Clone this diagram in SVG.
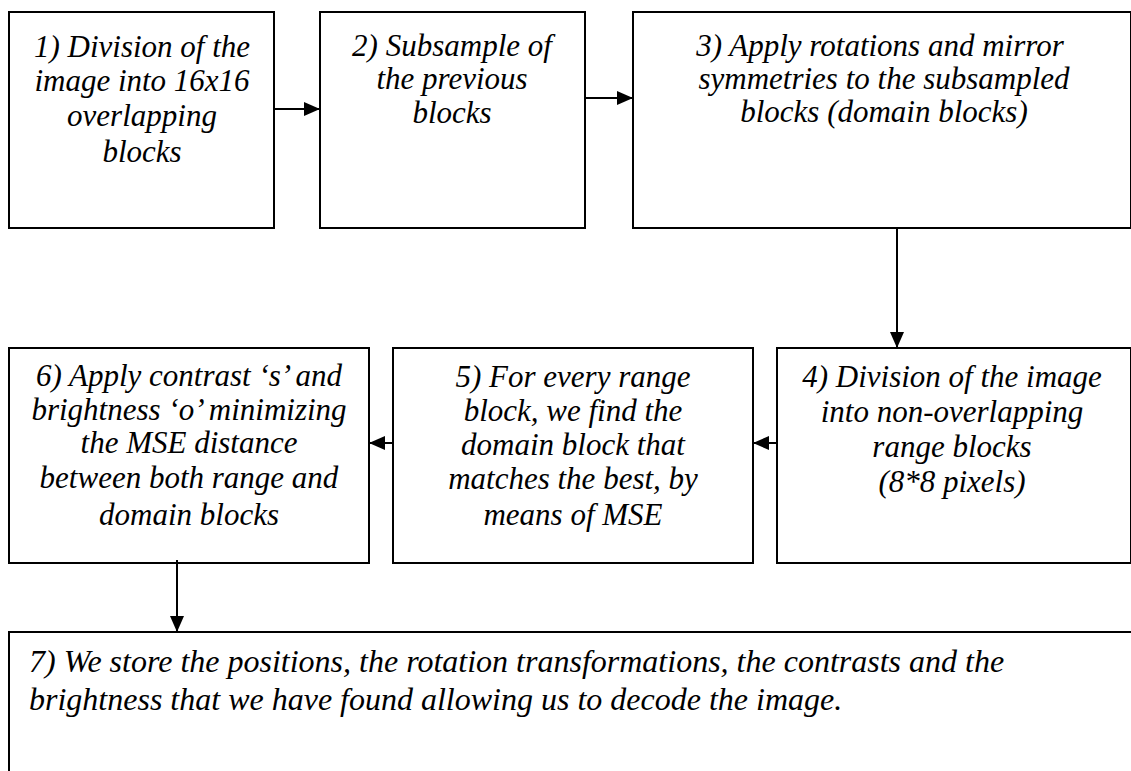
<svg xmlns="http://www.w3.org/2000/svg" width="1131" height="771" viewBox="0 0 1131 771">
  <style>
    .box { fill: #ffffff; stroke: #000000; stroke-width: 2; }
    .lbl { font-family: "Liberation Serif", "Times New Roman", serif; font-style: italic; font-size: 31px; fill: #000000; }
    .big { font-size: 32px; }
    .mid { text-anchor: middle; }
    .edge { stroke: #000000; stroke-width: 2; fill: none; marker-end: url(#head); }
  </style>
  <defs>
    <marker id="head" markerUnits="userSpaceOnUse" markerWidth="16" markerHeight="14" refX="16" refY="7" orient="auto">
      <path d="M0,0 L16,7 L0,14 Z" fill="#000000"/>
    </marker>
  </defs>
  <rect width="1131" height="771" fill="#ffffff"/>

  <g id="step1">
    <rect class="box" x="9" y="12" width="265" height="216"/>
    <text class="lbl mid" x="142" y="57">1) Division of the</text>
    <text class="lbl mid" x="142" y="91">image into 16x16</text>
    <text class="lbl mid" x="142" y="126">overlapping</text>
    <text class="lbl mid" x="142" y="162">blocks</text>
  </g>

  <g id="step2">
    <rect class="box" x="320" y="12" width="265" height="216"/>
    <text class="lbl mid" x="452" y="56">2) Subsample of</text>
    <text class="lbl mid" x="452" y="89">the previous</text>
    <text class="lbl mid" x="452" y="123">blocks</text>
  </g>

  <g id="step3">
    <rect class="box" x="633" y="12" width="498" height="216"/>
    <text class="lbl mid" x="880" y="56">3) Apply rotations and mirror</text>
    <text class="lbl mid" x="884" y="89">symmetries to the subsampled</text>
    <text class="lbl mid" x="884" y="122">blocks (domain blocks)</text>
  </g>

  <g id="step4">
    <rect class="box" x="777" y="348" width="354" height="215"/>
    <text class="lbl mid" x="952" y="387">4) Division of the image</text>
    <text class="lbl mid" x="952" y="422">into non-overlapping</text>
    <text class="lbl mid" x="952" y="457">range blocks</text>
    <text class="lbl mid" x="952" y="492">(8*8 pixels)</text>
  </g>

  <g id="step5">
    <rect class="box" x="393" y="348" width="360" height="215"/>
    <text class="lbl mid" x="573" y="387">5) For every range</text>
    <text class="lbl mid" x="573" y="421">block, we find the</text>
    <text class="lbl mid" x="573" y="455">domain block that</text>
    <text class="lbl mid" x="573" y="489">matches the best, by</text>
    <text class="lbl mid" x="573" y="525">means of MSE</text>
  </g>

  <g id="step6">
    <rect class="box" x="9" y="348" width="360" height="215"/>
    <text class="lbl mid" x="189" y="386">6) Apply contrast ‘s’ and</text>
    <text class="lbl mid" x="189" y="420">brightness ‘o’ minimizing</text>
    <text class="lbl mid" x="189" y="453">the MSE distance</text>
    <text class="lbl mid" x="189" y="488">between both range and</text>
    <text class="lbl mid" x="189" y="525">domain blocks</text>
  </g>

  <g id="step7">
    <rect class="box" x="9" y="632" width="1130" height="150"/>
    <text class="lbl big" x="29" y="672">7) We store the positions, the rotation transformations, the contrasts and the</text>
    <text class="lbl big" x="29" y="710">brightness that we have found allowing us to decode the image.</text>
  </g>

  <g id="connectors">
    <line class="edge" x1="274" y1="109" x2="320" y2="109"/>
    <line class="edge" x1="585" y1="98" x2="633" y2="98"/>
    <line class="edge" x1="897" y1="228" x2="897" y2="348"/>
    <line class="edge" x1="777" y1="443" x2="753" y2="443"/>
    <line class="edge" x1="393" y1="443" x2="369" y2="443"/>
    <line class="edge" x1="177" y1="560" x2="177" y2="632"/>
  </g>
</svg>
